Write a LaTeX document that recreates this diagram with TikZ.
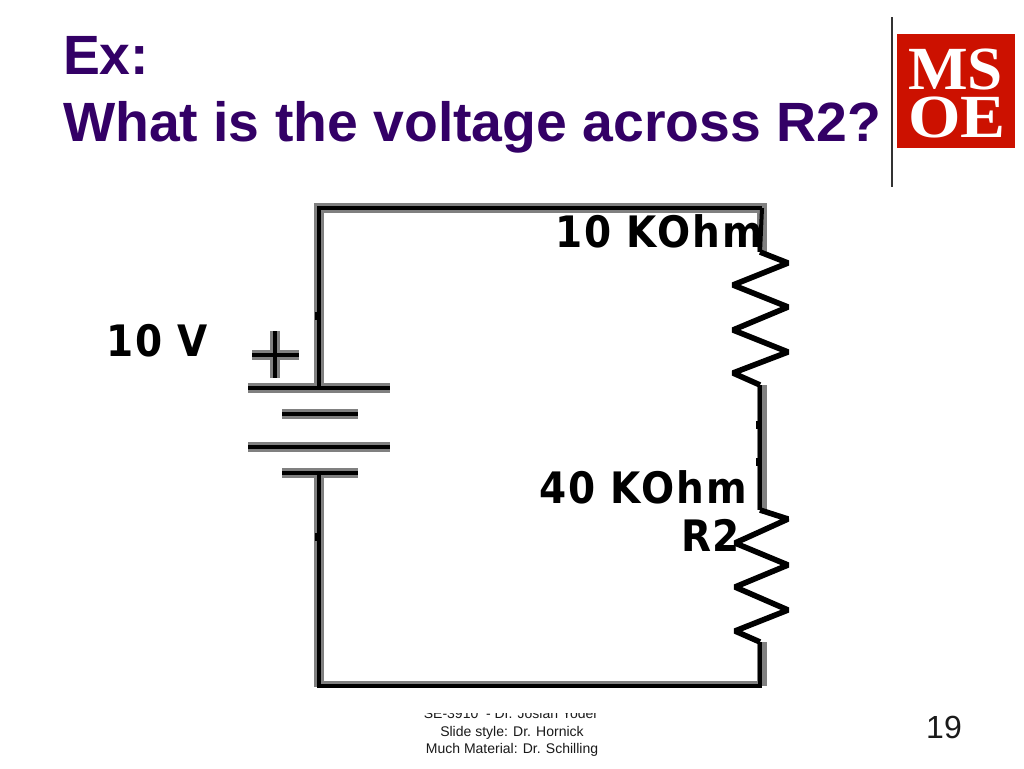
\documentclass[tikz,border=0pt]{standalone}
\usepackage{fontspec}
\setmainfont{Liberation Sans}
\newfontfamily\logofont{Liberation Serif}
\newfontfamily\circfont[LetterSpace=5]{DejaVu Sans}
\definecolor{titlepurple}{HTML}{330066}
\definecolor{msoered}{HTML}{CC1100}
\definecolor{wiregray}{HTML}{808080}
\definecolor{foot}{HTML}{1A1A1A}
\tikzset{
  x=0.75pt,y=-0.75pt,
  lab/.style={inner sep=0pt,outer sep=0pt,anchor=base west},
  titletext/.style={lab,text=titlepurple,font=\bfseries\fontsize{41.5pt}{44pt}\selectfont},
  circlabel/.style={lab,text=black,font=\circfont\bfseries\fontsize{32.5pt}{34pt}\selectfont,xscale=0.9},
  wirebase/.style={draw=wiregray,line width=7.5pt,line cap=butt},
  wirecore/.style={draw=black,line width=3pt,line cap=butt},
  wirethin/.style={draw=wiregray,line width=3.2pt,line cap=butt},
  zig/.style={draw=black,line width=4.2pt,line join=bevel},
  tick/.style={draw=black,line width=3.6pt,line cap=butt},
  foottext/.style={inner sep=0pt,outer sep=0pt,anchor=base,text=foot,font=\fontsize{10.5pt}{12pt}\selectfont},
  logotext/.style={inner sep=0pt,outer sep=0pt,anchor=base west,text=white,font=\logofont\bfseries\fontsize{46pt}{47pt}\selectfont}
}
\begin{document}
\begin{tikzpicture}
\useasboundingbox (0,0) rectangle (1024,768);
\fill[white] (0,0) rectangle (1024,768);

% title
\node[titletext] (t1) at (63,74) {Ex:};
\node[titletext] (t2) at (63,141) {What is the voltage across R2?};

% logo
\draw[draw=black!80,line width=0.9pt] (892,17) -- (892,187);
\fill[msoered] (897,34) rectangle (1015,148);
\node[logotext,xscale=1.03] (ms) at (908,89) {MS};
\node[logotext,xscale=1.1] (oe) at (908,137) {OE};

% named points of the circuit
\coordinate (tl) at (319,208);
\coordinate (tr) at (762,208);
\coordinate (br) at (762,685);
\coordinate (bl) at (319,685);
\coordinate (batTop) at (319,388);
\coordinate (batBot) at (319,473);
\coordinate (r1a) at (760,252);
\coordinate (r1b) at (760,385);
\coordinate (r2a) at (760,510);
\coordinate (r2b) at (760,642);

% gray bands of wires
\draw[wirebase] (batTop) -- (319,208) -- (767,208);
\draw[wirebase] (762,204) -- (762,252);
\draw[wirebase] (762,385) -- (762,510);
\draw[wirebase] (762,642) -- (762,686);
\draw[wirethin] (765,683) -- (319,683);
\draw[wirebase] (319,687) -- (batBot);
% battery bands
\foreach \a/\b/\y in {248/390/388,282/358/414,248/390/447,282/358/473}{
  \draw[wirebase] (\a,\y) -- (\b,\y);
}
\draw[wirebase] (252,355) -- (299,355);
\draw[wirebase] (275,331) -- (275,378);

% black cores
\draw[wirecore] (batTop) -- (tl) -- (tr);
\draw[wirecore] (tr) -- (r1a);
\draw[wirecore] (r1b) -- (r2a);
\draw[wirecore] (r2b) -- (760,686) -- (319,686) -- (batBot);
\foreach \a/\b/\y in {248/390/388,282/358/414,248/390/447,282/358/473}{
  \draw[wirecore] (\a,\y) -- (\b,\y);
}
\draw[wirecore] (252,355) -- (299,355);
\draw[wirecore] (275,331) -- (275,378);

% small marks on the wires
\draw[tick] (317,312) -- (317,320);
\draw[tick] (317,533) -- (317,541);
\draw[tick] (758,421) -- (758,429);
\draw[tick] (758,458) -- (758,466);

% resistors
\draw[zig] (r1a) -- (788,263) -- (733,285) -- (788,307) -- (733,330) -- (788,352) -- (733,373) -- (r1b);
\draw[zig] (r2a) -- (788,519) -- (735,543) -- (788,565) -- (735,587) -- (788,610) -- (735,631) -- (r2b);

% labels
\node[circlabel] (l10k) at (555,247) {10 KOhm};
\node[circlabel] (l40k) at (539,503) {40 KOhm};
\node[circlabel] (lr2) at (681,551) {R2};
\node[circlabel] (l10v) at (106,356) {10 V};

% footer
\begin{scope}
\clip (300,713) rectangle (724,768);
\node[foottext] (f1) at (511,718) {SE-3910 \ - Dr. Josiah Yoder};
\end{scope}
\node[foottext] (f2) at (512,736) {Slide style: Dr. Hornick};
\node[foottext] (f3) at (512,753) {Much Material: Dr. Schilling};
\node[inner sep=0pt,anchor=base,text=foot,font=\fontsize{24pt}{26pt}\selectfont] (pg) at (944,738) {19};
\end{tikzpicture}
\end{document}
